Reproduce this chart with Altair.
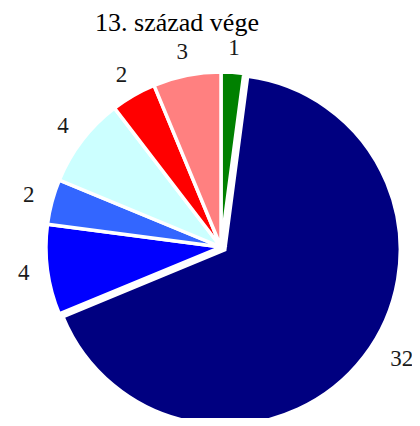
import altair as alt
import pandas as pd

title_text = "13. század vége"
categories = ["a", "b", "c", "d", "e", "f", "g"]
values = [1, 32, 4, 2, 4, 2, 3]
colors = ["#008000", "#000080", "#0000FF", "#3366FF", "#CCFFFF", "#FF0000", "#FF8080"]
order = list(range(len(values)))

df = pd.DataFrame({"cat": categories, "value": values, "ord": order})

FONT = "Liberation Serif"
PAD = 8
CX, CY = 213, 239 - PAD      # centre of the pie (chart coords)
NX, NY = 217, 242 - PAD      # centre of the pulled-out large slice
R = 175

base = alt.Chart(df).encode(
    theta=alt.Theta("value:Q", stack=True),
    order=alt.Order("ord:Q"),
)

is_big = alt.datum.cat == "b"
col = alt.Color("cat:N", scale=alt.Scale(domain=categories, range=colors), legend=None)

big_arc = base.mark_arc(outerRadius=R, stroke="white", strokeWidth=3).encode(
    color=col,
    x=alt.value(NX), y=alt.value(NY),
    opacity=alt.when(is_big).then(alt.value(1)).otherwise(alt.value(0)),
)
small_arc = base.mark_arc(outerRadius=R, stroke="white", strokeWidth=3.5).encode(
    color=col,
    x=alt.value(CX), y=alt.value(CY),
    opacity=alt.when(is_big).then(alt.value(0)).otherwise(alt.value(1)),
)

small_lbl = base.mark_text(radius=199, font=FONT, fontSize=23, baseline="middle", align="center").encode(
    x=alt.value(CX), y=alt.value(CY),
    text="value:Q",
    color=alt.value("#1a1a1a"),
    opacity=alt.when(is_big).then(alt.value(0)).otherwise(alt.value(1)),
)
big_lbl = base.mark_text(radius=205, font=FONT, fontSize=23, baseline="middle", align="center", dx=14, dy=-16).encode(
    x=alt.value(NX), y=alt.value(NY),
    text="value:Q",
    color=alt.value("#1a1a1a"),
    opacity=alt.when(is_big).then(alt.value(1)).otherwise(alt.value(0)),
)

title = alt.Chart(pd.DataFrame({"t": [title_text]})).mark_text(
    font=FONT, fontSize=26, color="#000000", align="center", baseline="alphabetic"
).encode(x=alt.value(169), y=alt.value(15), text="t:N")

chart = alt.layer(big_arc, small_arc, small_lbl, big_lbl, title).properties(
    width=404, height=410 - PAD, autosize=alt.AutoSizeParams(type="none"),
    padding={"top": PAD, "left": 0, "right": 0, "bottom": 0}
).configure_view(stroke=None)

chart.save("out.html", embed_options={"renderer": "svg", "actions": False})
